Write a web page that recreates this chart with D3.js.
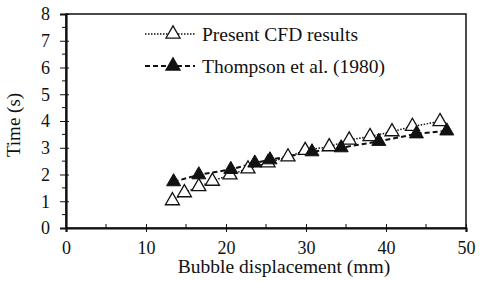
<!DOCTYPE html>
<html>
<head>
<meta charset="utf-8">
<script src="https://cdn.jsdelivr.net/npm/d3@7"></script>
<style>
  body { margin: 0; background: #fff; }
  text { font-family: "Liberation Serif", "Times New Roman", serif; fill: #111; }
</style>
</head>
<body>
<div id="chart"></div>
<script>
// data
var cfdX = [13.3, 14.8, 16.6, 18.3, 20.5, 22.75, 25.25, 27.75, 29.9, 32.9, 35.4, 38.0, 40.75, 43.3, 46.75];
var cfdY = [1.02, 1.32, 1.55, 1.75, 1.99, 2.21, 2.44, 2.66, 2.90, 3.04, 3.29, 3.42, 3.60, 3.80, 3.98];
var thX = [13.45, 16.6, 20.6, 23.6, 25.5, 30.75, 34.4, 39.1, 43.8, 47.6];
var thY = [1.73, 1.99, 2.19, 2.43, 2.55, 2.85, 3.0, 3.24, 3.52, 3.63];
var xTicks = [0, 10, 20, 30, 40, 50];
var yTicks = [0, 1, 2, 3, 4, 5, 6, 7, 8];
var seriesNames = ["Present CFD results", "Thompson et al. (1980)"];

var width = 480, height = 281;
var margin = {top: 14, right: 14, bottom: 53, left: 66};

var svg = d3.select("#chart").append("svg")
    .attr("width", width)
    .attr("height", height);

var x = d3.scaleLinear().domain([0, 50]).range([margin.left, width - margin.right]);
var y = d3.scaleLinear().domain([0, 8]).range([height - margin.bottom, margin.top]);

// box round the plot
svg.append("rect")
    .attr("x", x(0)).attr("y", y(8))
    .attr("width", x(50) - x(0)).attr("height", y(0) - y(8))
    .style("fill", "none").style("stroke", "#111").style("stroke-width", 1.5);

// minor ticks
svg.append("g").selectAll("line")
    .data(d3.range(0.5, 8, 1))
    .enter().append("line")
    .attr("x1", x(0) - 4).attr("x2", x(0))
    .attr("y1", function(d) { return y(d); }).attr("y2", function(d) { return y(d); })
    .style("stroke", "#111").style("stroke-width", 1);
svg.append("g").selectAll("line")
    .data(d3.range(5, 50, 10))
    .enter().append("line")
    .attr("x1", function(d) { return x(d); }).attr("x2", function(d) { return x(d); })
    .attr("y1", y(0)).attr("y2", y(0) - 4)
    .style("stroke", "#111").style("stroke-width", 1);

// axes
var xAxis = svg.append("g")
    .attr("transform", "translate(0," + y(0) + ")")
    .call(d3.axisBottom(x).tickValues(xTicks).tickSize(4).tickPadding(9));
var yAxis = svg.append("g")
    .attr("transform", "translate(" + x(0) + ",0)")
    .call(d3.axisLeft(y).tickValues(yTicks).tickSize(6).tickPadding(10));

[xAxis, yAxis].forEach(function(a) {
  a.select(".domain").style("stroke", "#111").style("stroke-width", 2.2);
  a.selectAll(".tick line").style("stroke", "#111").style("stroke-width", 1);
  a.selectAll(".tick text").style("font-size", "18px").style("font-family", "Liberation Serif").style("fill", "#111");
});
xAxis.selectAll(".tick line").attr("y1", -4).attr("y2", 4);
yAxis.selectAll(".tick line").attr("x1", -6).attr("x2", 3);

// axis titles
svg.append("text")
    .attr("x", 284)
    .attr("y", 273)
    .style("text-anchor", "middle")
    .style("font-size", "19.5px")
    .text("Bubble displacement (mm)");
svg.append("text")
    .attr("transform", "translate(20," + (y(4) + 4) + ") rotate(-90)")
    .style("text-anchor", "middle")
    .style("font-size", "19px")
    .text("Time (s)");

var line = d3.line()
    .x(function(d) { return x(d[0]); })
    .y(function(d) { return y(d[1]); });

var cfd = d3.zip(cfdX, cfdY);
var th = d3.zip(thX, thY);
var tri = d3.symbol().type(d3.symbolTriangle).size(85);

// Thompson series
svg.append("path").datum(th)
    .attr("d", line)
    .style("fill", "none").style("stroke", "#111")
    .style("stroke-width", 2).style("stroke-dasharray", "5,3");

// CFD series
svg.append("path").datum(cfd)
    .attr("d", line)
    .style("fill", "none").style("stroke", "#111")
    .style("stroke-width", 1.5).style("stroke-dasharray", "1.5,1.5");

svg.append("g").selectAll("path")
    .data(cfd)
    .enter().append("path")
    .attr("d", tri)
    .attr("transform", function(d) { return "translate(" + x(d[0]) + "," + y(d[1]) + ")"; })
    .style("fill", "#fff").style("stroke", "#111").style("stroke-width", 1.3);

svg.append("g").selectAll("path")
    .data(th)
    .enter().append("path")
    .attr("d", tri)
    .attr("transform", function(d) { return "translate(" + x(d[0]) + "," + y(d[1]) + ")"; })
    .style("fill", "#111").style("stroke", "#111").style("stroke-width", 1);

// legend
var legend = svg.selectAll(".legend")
    .data(seriesNames)
    .enter().append("g")
    .attr("class", "legend")
    .attr("transform", function(d, i) { return "translate(145," + (34 + i * 32) + ")"; });

legend.append("line")
    .attr("x1", 0).attr("x2", 50)
    .style("stroke", "#111")
    .style("stroke-width", function(d, i) { return i == 0 ? 1.5 : 2; })
    .style("stroke-dasharray", function(d, i) { return i == 0 ? "1.5,1.5" : "5,3"; });
legend.append("path")
    .attr("d", tri)
    .attr("transform", "translate(28,0)")
    .style("fill", function(d, i) { return i == 0 ? "#fff" : "#111"; })
    .style("stroke", "#111").style("stroke-width", 1.3);
legend.append("text")
    .attr("x", 57)
    .attr("dy", ".35em")
    .style("font-size", "19.5px")
    .text(function(d) { return d; });
</script>
</body>
</html>
